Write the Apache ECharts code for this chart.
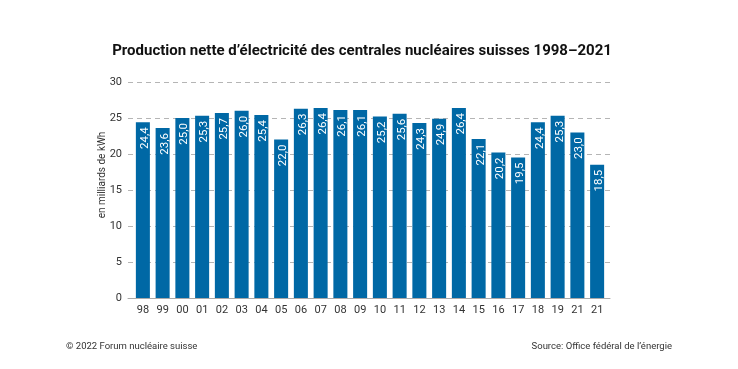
<!DOCTYPE html>
<html><head><meta charset="utf-8">
<script src="https://cdn.jsdelivr.net/npm/echarts@6/dist/echarts.min.js"></script>
<style>html,body{margin:0;padding:0;background:#fff}#c{width:738px;height:369px}</style>
</head><body><div id="c"></div>
<script>
const categories = ['98','99','00','01','02','03','04','05','06','07','08','09','10','11','12','13','14','15','16','17','18','19','21','21'];
const production = [24.4,23.6,25.0,25.3,25.7,26.0,25.4,22.0,26.3,26.4,26.1,26.1,25.2,25.6,24.3,24.9,26.4,22.1,20.2,19.5,24.4,25.3,23.0,18.5];
const yTicks = {min:0, max:30, interval:5};
const titleText = 'Production nette d’électricité des centrales nucléaires suisses 1998–2021';
const yName = 'en milliards de kWh';
const footLeft = '© 2022 Forum nucléaire suisse';
const footRight = 'Source: Office fédéral de l’énergie';

const font = 'Roboto, "DejaVu Sans", sans-serif';
const chart = echarts.init(document.getElementById('c'), null, {renderer:'canvas'});
chart.setOption({
  animation:false,
  backgroundColor:'#fff',
  title:{text:titleText, left:357, top:39, textAlign:'center',
    textStyle:{fontFamily:font, fontSize:15, fontWeight:'bold', color:'#111'}},
  graphic:[
    {type:'text', left:66, top:342, style:{text:footLeft, font:'9.5px '+font, fill:'#333'}},
    {type:'text', right:66, top:342, style:{text:footRight, font:'9.5px '+font, fill:'#333'}}
  ],
  grid:[
    {left:128, width:482, top:82, height:216},
    {left:133, width:474, top:82, height:216}
  ],
  xAxis:[
    {gridIndex:0, type:'category', data:categories, axisLine:{show:true, lineStyle:{color:'#aaa'}},
      axisTick:{show:false}, axisLabel:{show:false}},
    {gridIndex:1, type:'category', data:categories, axisLine:{show:false}, axisTick:{show:false},
      axisLabel:{color:'#333', fontFamily:font, fontSize:11, margin:7, interval:0}}
  ],
  yAxis:[
    {gridIndex:0, type:'value', min:yTicks.min, max:yTicks.max, interval:yTicks.interval,
      name:yName, nameLocation:'middle', nameGap:21, nameRotate:90, nameMoveOverlap:false,
      nameTextStyle:{color:'#333', fontFamily:font, fontSize:10, padding:[0,0,0,30]},
      axisLine:{show:false}, axisTick:{show:false},
      axisLabel:{color:'#333', fontFamily:font, fontSize:11, margin:6},
      splitLine:{show:true, lineStyle:{color:'#b5b5b5', type:[5,4], width:1}}},
    {gridIndex:1, type:'value', min:yTicks.min, max:yTicks.max, interval:yTicks.interval,
      show:false, splitLine:{show:false}}
  ],
  series:[{
    type:'bar', xAxisIndex:1, yAxisIndex:1, data:production,
    barCategoryGap:'29%',
    itemStyle:{color:'#0068a5'},
    label:{show:true, position:'insideTop', rotate:90, align:'right', verticalAlign:'middle',
      offset:[0,2], distance:5,
      color:'#fff', fontFamily:font, fontSize:11.5,
      formatter:p=>p.value.toFixed(1).replace('.',',')}
  }]
});
</script></body></html>
